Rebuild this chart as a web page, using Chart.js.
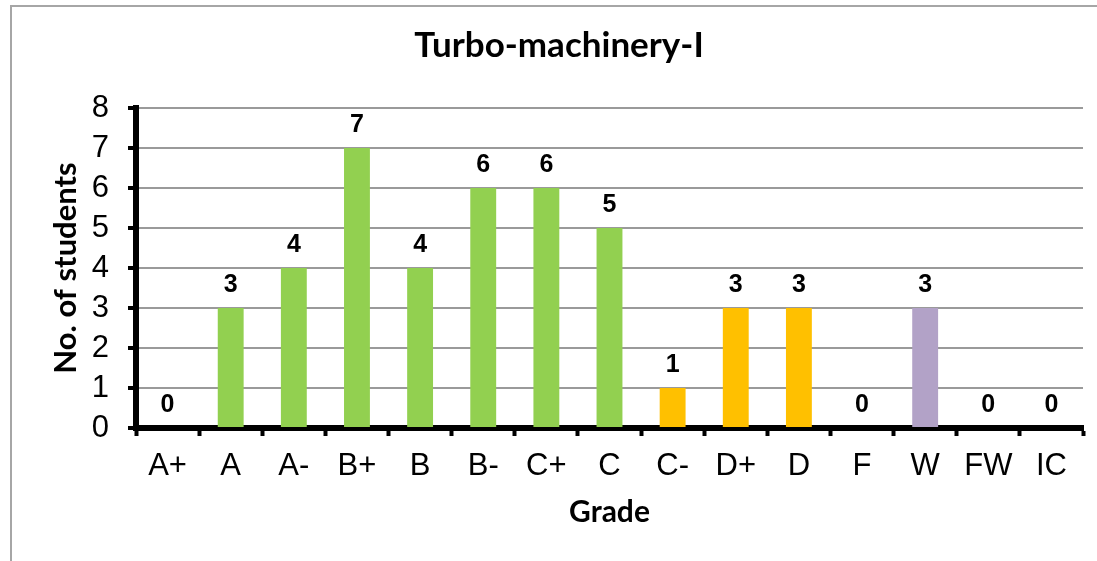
<!DOCTYPE html>
<html>
<head>
<meta charset="utf-8">
<title>Turbo-machinery-I</title>
<script src="https://cdn.jsdelivr.net/npm/chart.js@4.4.0/dist/chart.umd.min.js"></script>
<style>
  html, body { margin: 0; padding: 0; background: #fff; overflow: hidden; }
  #wrap { position: relative; width: 1097px; height: 561px; }
  #chart-area { position: absolute; left: 0; top: 0; }
  #frame { position: absolute; left: 10px; top: 5px; width: 1200px; height: 700px;
           border: 2px solid #a6a6a6; pointer-events: none; }
</style>
</head>
<body>
<div id="wrap">
  <canvas id="chart-area" width="1097" height="561"></canvas>
  <div id="frame"></div>
</div>
<script>
'use strict';

const chartTitle = 'Turbo-machinery-I';
const grades = ['A+','A','A-','B+','B','B-','C+','C','C-','D+','D','F','W','FW','IC'];
const students = [0,3,4,7,4,6,6,5,1,3,3,0,3,0,0];
const barColors = [
  '#92D050','#92D050','#92D050','#92D050','#92D050','#92D050','#92D050','#92D050', // green
  '#FFC000','#FFC000','#FFC000', // orange
  '#92D050',
  '#B2A2C7', // purple
  '#92D050','#92D050'
];
const yTicks = [0,1,2,3,4,5,6,7,8];

// numbers on top of the bars + the title (sits a bit right of centre, like the original)
const barValueLabels = {
  id: 'barValueLabels',
  afterDatasetsDraw(chart) {
    const ctx = chart.ctx;
    const meta = chart.getDatasetMeta(0);
    ctx.save();
    ctx.font = 'bold 25px "Liberation Sans"';
    ctx.fillStyle = '#000';
    ctx.textAlign = 'center';
    ctx.textBaseline = 'alphabetic';
    meta.data.forEach((bar, i) => {
      ctx.fillText(String(students[i]), bar.x, bar.y - 16);
    });
    ctx.font = 'bold 35px Lato';
    ctx.fillText(chartTitle, 559, 57);
    ctx.restore();
  }
};

var config = {
  type: 'bar',
  data: {
    labels: grades,
    datasets: [{
      data: students,
      backgroundColor: barColors,
      categoryPercentage: 1.0,
      barPercentage: 0.41,
      borderWidth: 0
    }]
  },
  options: {
    responsive: false,
    animation: false,
    devicePixelRatio: 1,
    layout: { padding: { left: 12, right: 14, top: 108, bottom: 20 } },
    plugins: {
      legend: { display: false },
      tooltip: { enabled: false },
      title: { display: false }
    },
    scales: {
      x: {
        grid: {
          offset: true,
          drawOnChartArea: false,
          drawTicks: true,
          tickLength: 8,
          tickWidth: 4,
          tickColor: '#000'
        },
        border: { display: true, color: '#000', width: 6 },
        ticks: {
          color: '#000',
          padding: 12,
          maxRotation: 0,
          autoSkip: false,
          font: { family: 'Liberation Sans', size: 31 }
        },
        title: {
          display: true,
          text: 'Grade',
          color: '#000',
          font: { family: 'Lato', size: 30, weight: 'bold', lineHeight: 1.2 },
          padding: { top: 0, bottom: 11 }
        },
        afterFit: (scale) => { scale.height = 113; }
      },
      y: {
        min: 0,
        max: 8,
        afterBuildTicks: (scale) => { scale.ticks = yTicks.map(v => ({ value: v })); },
        grid: {
          color: (c) => (c.tick && c.tick.value === 0) ? 'rgba(0,0,0,0)' : '#9a9a9a',
          lineWidth: 2,
          drawTicks: true,
          tickLength: 8,
          tickWidth: 4,
          tickColor: '#000'
        },
        border: { display: true, color: '#000', width: 6 },
        ticks: {
          color: '#000',
          padding: 19,
          autoSkip: false,
          font: { family: 'Liberation Sans', size: 31, lineHeight: 1 }
        },
        title: {
          display: true,
          text: 'No. of students',
          color: '#000',
          font: { family: 'Lato', size: 31, weight: 'bold', lineHeight: 1.2 },
          padding: { top: 35, bottom: 0 }
        },
        afterFit: (scale) => { scale.width = 124; }
      }
    }
  },
  plugins: [barValueLabels]
};

window.onload = function() {
  var ctx = document.getElementById('chart-area').getContext('2d');
  window.myBar = new Chart(ctx, config);
};
</script>
</body>
</html>
